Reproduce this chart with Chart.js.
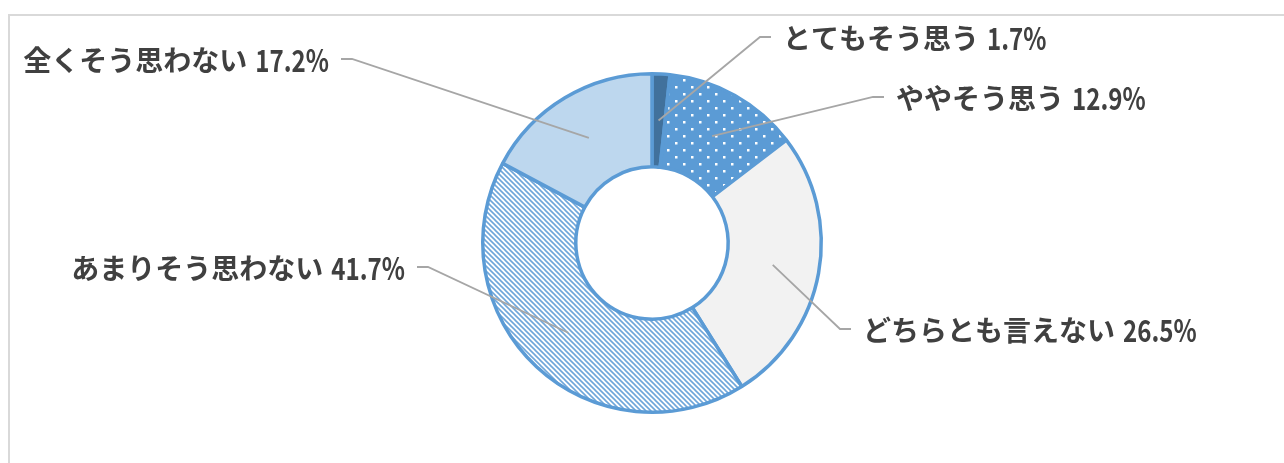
<!DOCTYPE html>
<html><head><meta charset="utf-8">
<script src="https://cdn.jsdelivr.net/npm/chart.js@4/dist/chart.umd.min.js"></script>
<style>html,body{margin:0;padding:0;background:#fff;overflow:hidden}canvas{display:block}</style>
</head><body><canvas id="c" width="1284" height="463"></canvas>
<script>
// ---- data ----
const categories = ['とてもそう思う', 'ややそう思う', 'どちらとも言えない', 'あまりそう思わない', '全くそう思わない'];
const values = [1.7, 12.9, 26.5, 41.7, 17.2];
const valueSuffix = '%';

// ---- layout (label elbow offsets from the doughnut centre) ----
const labelElbows = [[108, -206], [221, -146], [188, 86], [-224, 24], [-300, -184]];
const labelSides = ['right', 'right', 'right', 'left', 'left'];

function dotPattern() {
  const c = document.createElement('canvas'); c.width = 16; c.height = 14;
  const x = c.getContext('2d');
  x.fillStyle = '#5B9BD5'; x.fillRect(0, 0, 16, 14);
  x.fillStyle = '#ffffff'; x.fillRect(3, 2, 2.5, 2.5); x.fillRect(11, 9, 2.5, 2.5);
  return x.createPattern(c, 'repeat');
}
function stripePattern() {
  const s = 5;
  const c = document.createElement('canvas'); c.width = s; c.height = s;
  const x = c.getContext('2d');
  x.fillStyle = '#ffffff'; x.fillRect(0, 0, s, s);
  x.strokeStyle = '#6FA6DA'; x.lineWidth = 1.6;
  for (let k = -1; k <= 1; k++) {
    x.beginPath(); x.moveTo(-1, -1 + k * s); x.lineTo(s + 1, s + 1 + k * s); x.stroke();
  }
  return x.createPattern(c, 'repeat');
}

const fills = ['#41719C', dotPattern(), '#F2F2F2', stripePattern(), '#BDD7EE'];

const framePlugin = {
  id: 'frame',
  beforeDraw(chart) {
    const ctx = chart.ctx;
    ctx.save();
    ctx.fillStyle = '#ffffff'; ctx.fillRect(0, 0, chart.width, chart.height);
    ctx.strokeStyle = '#D9D9D9'; ctx.lineWidth = 2;
    ctx.beginPath(); ctx.moveTo(9, chart.height + 5); ctx.lineTo(9, 15); ctx.lineTo(chart.width + 5, 15); ctx.stroke();
    ctx.restore();
  }
};

const labelPlugin = {
  id: 'leaderLabels',
  afterDatasetsDraw(chart) {
    const ctx = chart.ctx;
    const meta = chart.getDatasetMeta(0);
    ctx.save();
    meta.data.forEach((arc, i) => {
      const a = arc.tooltipPosition();
      const ex = arc.x + labelElbows[i][0], ey = arc.y + labelElbows[i][1];
      const dir = labelSides[i] === 'right' ? 1 : -1;
      ctx.strokeStyle = '#A6A6A6'; ctx.lineWidth = 1.8;
      ctx.beginPath(); ctx.moveTo(a.x, a.y); ctx.lineTo(ex, ey); ctx.lineTo(ex + dir * 11, ey); ctx.stroke();
      ctx.font = 'bold 28px "Noto Sans CJK JP", "Noto Sans", sans-serif';
      ctx.fillStyle = '#404040';
      ctx.textBaseline = 'middle';
      ctx.textAlign = 'left';
      const cat = categories[i];
      const val = values[i].toFixed(1) + valueSuffix;
      const gap = 8;
      const sx = 0.86, sy = 1.1;
      const wCat = ctx.measureText(cat).width;
      const wVal = ctx.measureText(val).width * sx;
      const total = wCat + gap + wVal;
      const x0 = dir === 1 ? ex + 23 : ex - 23 - total;
      ctx.fillText(cat, x0, ey + 1);
      ctx.save();
      ctx.translate(x0 + wCat + gap, ey + 1);
      ctx.scale(sx, sy);
      ctx.fillText(val, 0, 0);
      ctx.restore();
    });
    ctx.restore();
  }
};

new Chart(document.getElementById('c'), {
  type: 'doughnut',
  data: {
    labels: categories,
    datasets: [{
      data: values,
      backgroundColor: fills,
      borderColor: '#5B9BD5',
      borderWidth: 3.5
    }]
  },
  options: {
    responsive: false,
    animation: false,
    cutout: '45%',
    layout: { padding: { left: 481, right: 461, top: 72, bottom: 49 } },
    plugins: { legend: { display: false }, tooltip: { enabled: false } }
  },
  plugins: [framePlugin, labelPlugin]
});
</script>
</body></html>
